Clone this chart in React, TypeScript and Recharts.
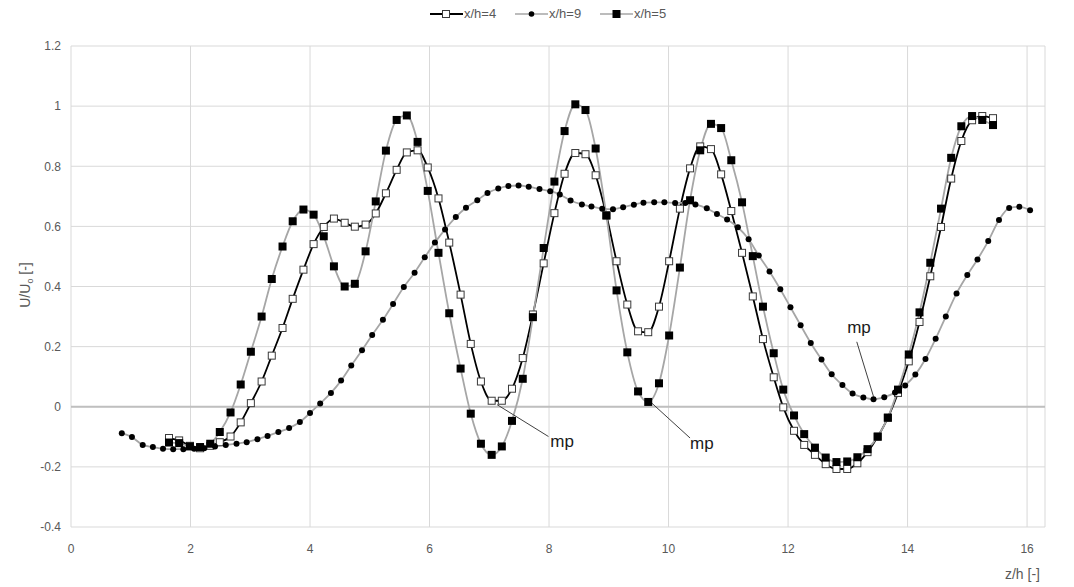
import React from 'react';
import { LineChart, Line, XAxis, YAxis, CartesianGrid, ReferenceLine, ReferenceDot } from 'recharts';

// z/h positions shared by x/h=4 and x/h=5
const zA = [1.64,1.81,1.99,2.16,2.33,2.49,2.67,2.84,3.01,3.19,3.36,3.54,3.71,3.89,4.06,4.23,4.40,4.58,4.75,4.93,5.10,5.27,5.45,5.62,5.80,5.97,6.15,6.33,6.52,6.69,6.86,7.04,7.21,7.38,7.56,7.73,7.91,8.09,8.26,8.44,8.61,8.78,8.96,9.13,9.31,9.49,9.66,9.84,10.01,10.19,10.36,10.53,10.71,10.88,11.05,11.23,11.41,11.58,11.76,11.92,12.10,12.27,12.45,12.63,12.81,12.99,13.16,13.33,13.50,13.67,13.84,14.02,14.20,14.38,14.56,14.73,14.90,15.08,15.25,15.43];

const v4 = [-0.104,-0.112,-0.130,-0.138,-0.130,-0.118,-0.099,-0.052,0.012,0.084,
0.170,0.262,0.359,0.456,0.541,0.598,0.626,0.612,0.599,0.606,
0.643,0.710,0.788,0.846,0.853,0.796,0.693,0.546,0.373,0.209,
0.084,0.020,0.020,0.060,0.162,0.307,0.477,0.644,0.775,0.844,
0.840,0.770,0.637,0.484,0.340,0.251,0.248,0.333,0.484,0.659,
0.793,0.866,0.857,0.773,0.651,0.512,0.367,0.225,0.098,-0.002,
-0.080,-0.127,-0.160,-0.191,-0.207,-0.207,-0.188,-0.151,-0.100,-0.037,
0.046,0.151,0.282,0.434,0.598,0.759,0.884,0.953,0.967,0.960];

const v5 = [-0.119,-0.121,-0.132,-0.134,-0.123,-0.084,-0.019,0.074,0.183,0.300,
0.425,0.533,0.617,0.656,0.639,0.567,0.467,0.400,0.409,0.517,
0.683,0.852,0.954,0.969,0.881,0.718,0.512,0.311,0.127,-0.023,
-0.123,-0.160,-0.132,-0.047,0.093,0.298,0.528,0.749,0.917,1.006,
0.987,0.859,0.636,0.387,0.181,0.051,0.016,0.078,0.237,0.463,
0.687,0.853,0.941,0.927,0.820,0.680,0.501,0.333,0.178,0.057,
-0.029,-0.091,-0.136,-0.169,-0.184,-0.182,-0.168,-0.141,-0.099,-0.036,
0.057,0.174,0.314,0.479,0.659,0.828,0.933,0.967,0.954,0.937];

const z9 = [0.85,1.02,1.20,1.37,1.54,1.71,1.88,2.06,2.23,2.41,
2.59,2.77,2.94,3.12,3.29,3.47,3.65,3.83,4.00,4.17,
4.35,4.52,4.69,4.87,5.04,5.22,5.39,5.57,5.75,5.92,
6.09,6.26,6.44,6.61,6.80,6.97,7.15,7.32,7.49,7.66,
7.84,8.02,8.18,8.36,8.55,8.71,8.89,9.07,9.24,9.42,
9.58,9.76,9.93,10.11,10.28,10.45,10.64,10.81,10.98,11.16,
11.34,11.51,11.69,11.87,12.04,12.21,12.38,12.56,12.73,12.91,
13.08,13.26,13.43,13.61,13.79,13.96,14.13,14.30,14.47,14.64,
14.82,15.00,15.17,15.35,15.53,15.70,15.87,16.05];

const v9 = [-0.088,-0.101,-0.127,-0.134,-0.140,-0.141,-0.141,-0.140,-0.138,-0.132,
-0.127,-0.123,-0.118,-0.108,-0.097,-0.084,-0.071,-0.051,-0.021,0.011,
0.046,0.087,0.137,0.188,0.239,0.289,0.342,0.398,0.446,0.497,
0.546,0.590,0.631,0.662,0.687,0.711,0.726,0.734,0.736,0.732,
0.724,0.717,0.706,0.686,0.673,0.666,0.659,0.657,0.664,0.672,
0.679,0.680,0.680,0.678,0.678,0.673,0.660,0.641,0.623,0.597,
0.557,0.503,0.450,0.391,0.331,0.271,0.212,0.157,0.108,0.072,
0.044,0.031,0.025,0.032,0.047,0.071,0.107,0.159,0.226,0.300,
0.377,0.438,0.490,0.551,0.621,0.661,0.665,0.654];

const xTicks = [0, 2, 4, 6, 8, 10, 12, 14, 16];
const yTicks = [-0.4, -0.2, 0, 0.2, 0.4, 0.6, 0.8, 1, 1.2];
const seriesNames = ['x/h=4', 'x/h=9', 'x/h=5'];

// "mp" annotations in data coordinates: leader line from (x1,y1) to (x2,y2), text at (tx,ty)
const mpNotes = [
  { x1: 7.13, y1: 0.007, x2: 7.99, y2: -0.099, tx: 8.02, ty: -0.113 },
  { x1: 9.72, y1: 0.012, x2: 10.36, y2: -0.104, tx: 10.36, ty: -0.12 },
  { x1: 13.43, y1: 0.034, x2: 13.15, y2: 0.216, tx: 12.99, ty: 0.265 },
];

const d4 = zA.map((z, i) => ({ z, v: v4[i] }));
const d5 = zA.map((z, i) => ({ z, v: v5[i] }));
const d9 = z9.map((z, i) => ({ z, v: v9[i] }));

const FONT = '"Liberation Sans", Arial, sans-serif';
const GRAYTXT = '#595959';

const OpenSquare = (p: any) => {
  if (p.cx == null || p.cy == null) return <g key={`o${p.index}`} />;
  return <rect key={`o${p.index}`} x={p.cx - 3.5} y={p.cy - 3.5} width={7} height={7} fill="#ffffff" stroke="#3a3a3a" strokeWidth={1} />;
};
const FilledSquare = (p: any) => {
  if (p.cx == null || p.cy == null) return <g key={`f${p.index}`} />;
  return <rect key={`f${p.index}`} x={p.cx - 4} y={p.cy - 4} width={8} height={8} fill="#000000" />;
};
const DotMark = (p: any) => {
  if (p.cx == null || p.cy == null) return <g key={`c${p.index}`} />;
  return <circle key={`c${p.index}`} cx={p.cx} cy={p.cy} r={3} fill="#000000" />;
};

const LegendIcon = ({ kind }: { kind: number }) => (
  <svg width={33} height={14} style={{ display: 'block' }}>
    <line x1={0} y1={7} x2={33} y2={7} stroke={kind === 0 ? '#000' : '#a6a6a6'} strokeWidth={kind === 0 ? 2 : 1.5} />
    {kind === 0 && <rect x={12.5} y={3.5} width={7} height={7} fill="#fff" stroke="#3a3a3a" />}
    {kind === 1 && <circle cx={16.5} cy={7} r={2.8} fill="#000" />}
    {kind === 2 && <rect x={12.5} y={3} width={8} height={8} fill="#000" />}
  </svg>
);

const legendLeft = [430, 515, 600];

export default function App() {
  return (
    <div style={{ position: 'absolute', left: 0, top: 0, width: 1074, height: 587, background: '#fff', fontFamily: FONT }}>
      <LineChart width={1074} height={587} margin={{ top: 46, right: 29, bottom: 0, left: 0 }}>
        <CartesianGrid stroke="#d9d9d9" strokeWidth={1} />
        <XAxis
          dataKey="z"
          type="number"
          domain={[0, 16.3]}
          ticks={xTicks}
          allowDataOverflow
          height={60}
          tickSize={0}
          tickMargin={17}
          axisLine={false}
          tick={{ fill: GRAYTXT, fontSize: 12, fontFamily: FONT }}
        />
        <YAxis
          type="number"
          domain={[-0.4, 1.2]}
          ticks={yTicks}
          allowDataOverflow
          width={71}
          tickSize={0}
          tickMargin={10}
          axisLine={false}
          tick={{ fill: GRAYTXT, fontSize: 12, fontFamily: FONT }}
        />
        <ReferenceLine y={0} stroke="#bfbfbf" strokeWidth={2} />
        <Line data={d4} dataKey="v" name={seriesNames[0]} type="monotone" stroke="#000000" strokeWidth={1.8} dot={OpenSquare} activeDot={false} isAnimationActive={false} />
        <Line data={d9} dataKey="v" name={seriesNames[1]} type="monotone" stroke="#a6a6a6" strokeWidth={1.8} dot={DotMark} activeDot={false} isAnimationActive={false} />
        <Line data={d5} dataKey="v" name={seriesNames[2]} type="monotone" stroke="#a6a6a6" strokeWidth={1.8} dot={FilledSquare} activeDot={false} isAnimationActive={false} />
        {mpNotes.map((n, i) => (
          <ReferenceLine
            key={`l${i}`}
            segment={[{ x: n.x1, y: n.y1 }, { x: n.x2, y: n.y2 }]}
            stroke="#404040"
            strokeWidth={1}
          />
        ))}
        {mpNotes.map((n, i) => (
          <ReferenceDot
            key={`t${i}`}
            x={n.tx}
            y={n.ty}
            r={0}
            fill="none"
            stroke="none"
            label={{ value: 'mp', position: 'right', offset: 0, fill: '#1a1a1a', fontSize: 17, fontFamily: FONT }}
          />
        ))}
      </LineChart>

      {seriesNames.map((name, i) => (
        <div
          key={name}
          style={{ position: 'absolute', left: legendLeft[i], top: 7, display: 'flex', alignItems: 'center', fontSize: 13, color: GRAYTXT, lineHeight: '14px' }}
        >
          <LegendIcon kind={i} />
          <span style={{ marginLeft: 1 }}>{name}</span>
        </div>
      ))}

      <div
        style={{ position: 'absolute', left: 26, top: 285, transform: 'translate(-50%, -50%) rotate(-90deg)', fontSize: 14, color: GRAYTXT, whiteSpace: 'nowrap' }}
      >
        U/U<span style={{ fontSize: 9, verticalAlign: 'sub' }}>o</span> [-]
      </div>
      <div style={{ position: 'absolute', right: 34, top: 566, fontSize: 14, color: GRAYTXT, whiteSpace: 'nowrap' }}>
        z/h [-]
      </div>
    </div>
  );
}
